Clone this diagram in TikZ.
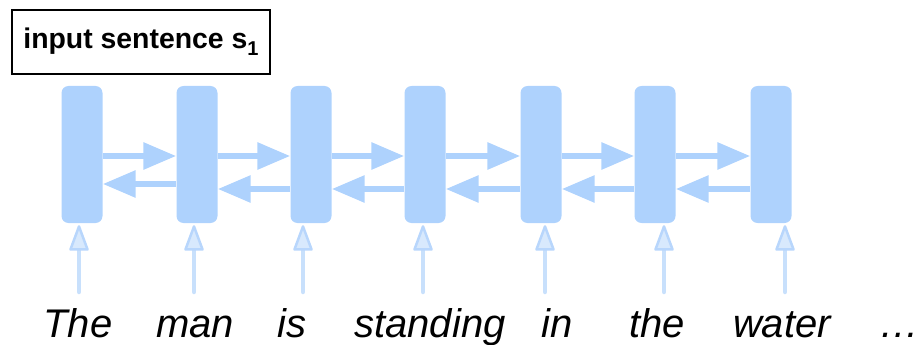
\documentclass[tikz,border=0pt]{standalone}
\usepackage{fontspec}
\setmainfont{Liberation Sans}
\newfontfamily\wordfont{Liberation Sans}
\usetikzlibrary{arrows.meta}
\definecolor{cellblue}{HTML}{AED2FD}
\definecolor{inline}{HTML}{C8E0FC}
\definecolor{inedge}{HTML}{B8D6FC}
\definecolor{infill}{HTML}{D8E9FD}
\tikzset{
  cell/.style={fill=cellblue, draw=none, rounded corners=7pt,
    minimum width=41pt, minimum height=137pt, inner sep=0pt},
  fwd/.style={draw=cellblue, line width=6pt,
    -{Triangle[length=33pt, width=26pt, fill=cellblue]}},
  inarr/.style={draw=inline, line width=4.5pt, line cap=round,
    -{Triangle[length=28pt, width=20pt, fill=infill, color=inedge,
      line width=2.5pt, line join=round]}},
  word/.style={font=\wordfont\itshape\fontsize{40}{40}\selectfont,
    anchor=base, inner sep=0pt},
  titlebox/.style={draw=black, line width=2pt, minimum width=258pt,
    minimum height=64pt, inner sep=0pt,
    font=\bfseries\fontsize{28.4}{30}\selectfont}
}
\begin{document}
\begin{tikzpicture}[x=1pt, y=-1pt]
  \useasboundingbox (0,0) rectangle (919,345);

  % title
  \node[titlebox] (title) at (141,42)
    {input sentence s\raisebox{-7pt}{\fontsize{20}{20}\selectfont 1}};

  % recurrent cells
  \foreach \i/\x in {1/82, 2/197, 3/311, 4/425, 5/541, 6/655, 7/771}
    \node[cell] (c\i) at (\x,154.5) {};

  % forward connections
  \foreach \a/\b in {1/2, 2/3, 3/4, 4/5, 5/6, 6/7}
    \draw[fwd] (c\a.east |- 0,156) -- (c\b.west |- 0,156);

  % backward connections
  \draw[fwd] (c2.west |- 0,184) -- (c1.east |- 0,184);
  \foreach \a/\b in {3/2, 4/3, 5/4, 6/5, 7/6}
    \draw[fwd] (c\a.west |- 0,189) -- (c\b.east |- 0,189);

  % words
  \node[word] (w1) at (78,337) {The};
  \node[word] (w2) at (195,337) {man};
  \node[word] (w3) at (292,337) {is};
  \node[word] (w4) at (430,337) {standing};
  \node[word] (w5) at (557,337) {in};
  \node[word] (w6) at (657,337) {the};
  \node[word] (w7) at (782,337) {water};
  \node[word] (w8) at (899,337) {…};

  % input arrows
  \foreach \i/\x in {1/79, 2/194, 3/303, 4/423, 5/545, 6/664, 7/785} {
    \coordinate (in\i) at (\x,292);
    \draw[inarr] (in\i) -- ([yshift=-2pt]in\i |- c\i.south);
  }
\end{tikzpicture}
\end{document}
